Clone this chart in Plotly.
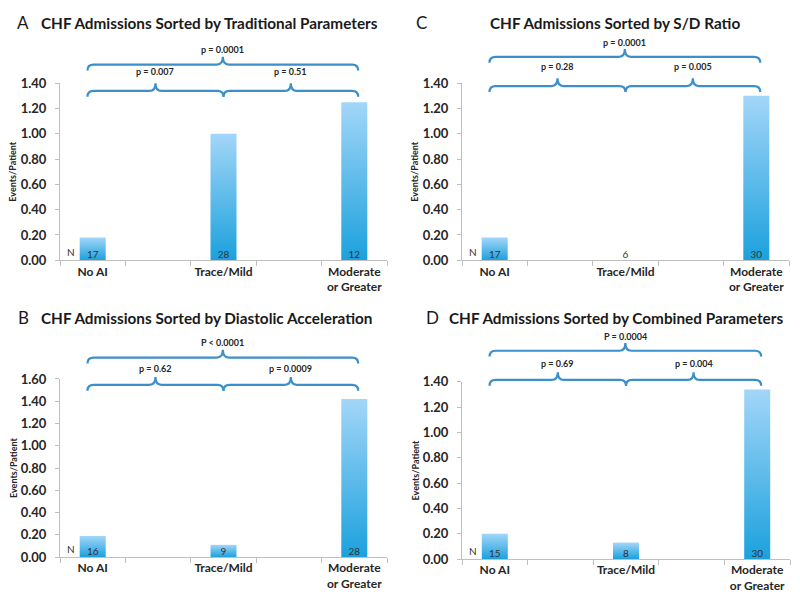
import plotly.graph_objects as go

# data
categories = ["No AI", "Trace/Mild", "Moderate<br>or Greater"]
letters = ["A", "B", "C", "D"]
titles = [
    "CHF Admissions Sorted by Traditional Parameters",
    "CHF Admissions Sorted by Diastolic Acceleration",
    "CHF Admissions Sorted by S/D Ratio",
    "CHF Admissions Sorted by Combined Parameters",
]
rate_a = [0.18, 1.00, 1.25]
rate_b = [0.19, 0.11, 1.42]
rate_c = [0.18, 0.00, 1.30]
rate_d = [0.20, 0.13, 1.34]
n_a = [17, 28, 12]
n_b = [16, 9, 28]
n_c = [17, 6, 30]
n_d = [15, 8, 30]
# p-values: left pair, right pair, overall
p_a = ["p = 0.007", "p = 0.51", "p = 0.0001"]
p_b = ["p = 0.62", "p = 0.0009", "P < 0.0001"]
p_c = ["p = 0.28", "p = 0.005", "p = 0.0001"]
p_d = ["p = 0.69", "p = 0.004", "P = 0.0004"]
y_max = [1.4, 1.6, 1.4, 1.4]

rates = [rate_a, rate_b, rate_c, rate_d]
ns = [n_a, n_b, n_c, n_d]
pvals = [p_a, p_b, p_c, p_d]

# page has an 8px body margin, so the figure is a bit smaller than the window
OFF = 8
W, H = 800 - 2 * OFF, 612 - 2 * OFF


def px(x):
    return (x - OFF) / W


def py(y):
    return 1 - (y - OFF) / H


# plot boxes in window pixels: (x0, x1, ytop, ybottom)
boxes = [(60, 387, 77, 259), (60, 387, 381, 564), (462, 789, 77, 259), (462, 790, 384, 566)]
letter_x = [23, 23, 421, 432]
title_x = [39, 39, 488, 447]
title_y = [15, 318, 15, 318]
# brace heights above plot top (px): upper body, lower body, upper text, lower text
brace_y = [(19, -8, 35, 12), (22, -6, 38, 11), (27, -3, 42, 17), (32, 2, 47, 19)]

BLUE = "#3b8fca"
FONT = "Lato"

fig = go.Figure()
layout = {}
annotations = []
shapes = []

for k in range(4):
    x0, x1, yt, yb = boxes[k]
    ph = yb - yt
    unit = (x1 - x0) / 5.0
    sfx = "" if k == 0 else str(k + 1)
    xa, ya = "x" + sfx, "y" + sfx
    layout["xaxis" + sfx] = dict(
        domain=[px(x0), px(x1)], anchor=ya, range=[-0.5, 4.5],
        tickvals=[0, 2, 4], ticktext=categories, ticks="",
        minor=dict(tickvals=[-0.5, 0.5, 1.5, 2.5, 3.5, 4.5], ticks="outside",
                   ticklen=5, tickcolor="#bfbfbf"),
        showline=True, linecolor="#bfbfbf", showgrid=False, zeroline=False,
        tickfont=dict(family=FONT, size=12, color="#262626", weight="bold"),
        fixedrange=True,
    )
    layout["yaxis" + sfx] = dict(
        domain=[py(yb), py(yt)], anchor=xa, range=[0, y_max[k]],
        dtick=0.2, tickformat=".2f", ticks="outside", ticklen=4, tickcolor="#bfbfbf",
        ticklabelstandoff=6,
        showline=True, linecolor="#bfbfbf", showgrid=False, zeroline=False,
        tickfont=dict(family=FONT, size=13, color="#262626", weight="bold"),
        fixedrange=True,
    )

    hw = 13 / unit
    for i, v in enumerate(rates[k]):
        xc = 2 * i
        if v > 0:
            fig.add_trace(go.Scatter(
                x=[xc - hw, xc + hw, xc + hw, xc - hw, xc - hw], y=[0, 0, v, v, 0],
                fill="toself", mode="lines", line=dict(width=0, color="rgba(0,0,0,0)"),
                fillgradient=dict(type="vertical", colorscale=[[0, "#1ba1dd"], [1, "#a3d6f8"]]),
                xaxis=xa, yaxis=ya, hoverinfo="skip", showlegend=False,
            ))
    fig.add_trace(go.Scatter(
        x=[2 * i for i in range(3)], y=[0, 0, 0], mode="text",
        text=[str(n) for n in ns[k]], textposition="top center",
        textfont=dict(family=FONT, size=10, color="#333333"),
        xaxis=xa, yaxis=ya, hoverinfo="skip", showlegend=False,
    ))
    annotations.append(dict(x=-0.33, y=0, xref=xa, yref=ya, text="N", showarrow=False,
                            yanchor="bottom", font=dict(family=FONT, size=10, color="#333333")))

    # braces
    ub, lb, ut, lt = brace_y[k]
    r = 6 / unit
    dep, tip = 6, 8

    def dy(p):
        return 1 + p / ph

    def brace(bx0, bx1, body):
        xm = (bx0 + bx1) / 2
        ye, yb_, ytp = dy(body - dep), dy(body), dy(body + tip)
        return (f"M {bx0},{ye} Q {bx0},{yb_} {bx0 + r},{yb_} L {xm - r},{yb_} "
                f"Q {xm},{yb_} {xm},{ytp} Q {xm},{yb_} {xm + r},{yb_} "
                f"L {bx1 - r},{yb_} Q {bx1},{yb_} {bx1},{ye}")

    left, right = -0.08, 4.06
    mid = 2
    for (bx0, bx1, body, ty, txt) in [(left, mid, lb, lt, pvals[k][0]),
                                       (mid, right, lb, lt, pvals[k][1]),
                                       (left, right, ub, ut, pvals[k][2])]:
        shapes.append(dict(type="path", xref=xa, yref=ya + " domain", path=brace(bx0, bx1, body),
                           line=dict(color=BLUE, width=2.2)))
        annotations.append(dict(x=(bx0 + bx1) / 2, y=dy(ty), xref=xa, yref=ya + " domain",
                                text=txt, showarrow=False, yanchor="middle",
                                font=dict(family=FONT, size=9, color="#262626", weight="bold")))

    # titles
    annotations.append(dict(x=px(letter_x[k]), y=py(title_y[k]), xref="paper", yref="paper",
                            text=letters[k], showarrow=False, xanchor="center", yanchor="middle",
                            font=dict(family=FONT, size=17, color="#1a1a1a")))
    annotations.append(dict(x=px(title_x[k]), y=py(title_y[k]), xref="paper", yref="paper",
                            text=titles[k], showarrow=False, xanchor="left", yanchor="middle",
                            font=dict(family=FONT, size=15.3, color="#1a1a1a", weight="bold")))
    annotations.append(dict(x=px(x0 - 47), y=py((yt + yb) / 2), xref="paper", yref="paper",
                            text="Events/Patient", showarrow=False, textangle=-90,
                            xanchor="center", yanchor="middle",
                            font=dict(family=FONT, size=9, color="#262626", weight="bold")))

fig.update_layout(
    width=W, height=H, margin=dict(l=0, r=0, t=0, b=0),
    paper_bgcolor="white", plot_bgcolor="white",
    annotations=annotations, shapes=shapes, showlegend=False,
    **layout,
)

fig.write_html("out.html", config={"displayModeBar": False})
